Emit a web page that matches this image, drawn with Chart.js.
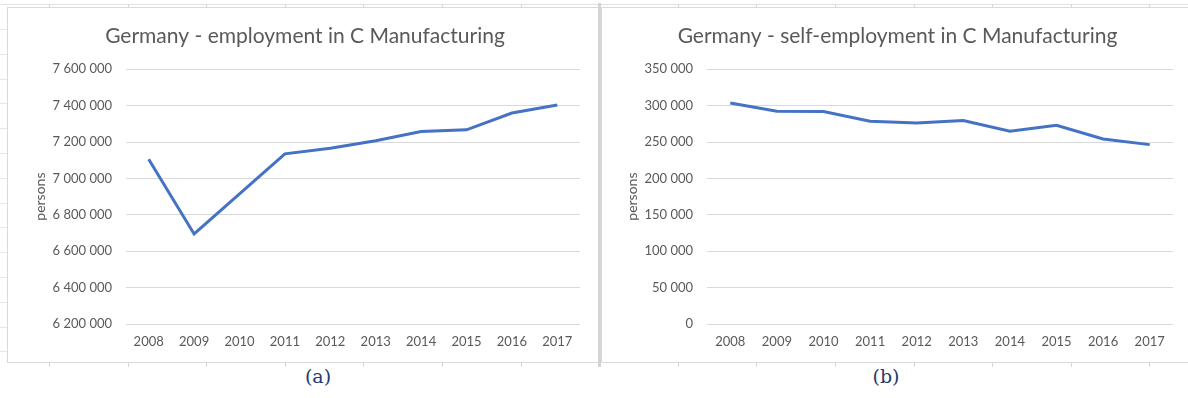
<!DOCTYPE html>
<html lang="en">
<head>
  <meta charset="UTF-8">
  <title>Germany - employment in C Manufacturing</title>
  <script src="https://cdn.jsdelivr.net/npm/chart.js"></script>
  <style>
    body {
      margin: 0;
      background: #ffffff;
      width: 1188px;
      height: 398px;
      position: relative;
      overflow: hidden;
      font-family: Lato, sans-serif;
    }

    .topline {
      position: absolute;
      left: 0;
      top: 4px;
      width: 1188px;
      height: 1px;
      background: #e2e2e2;
    }

    .tick {
      position: absolute;
      width: 1px;
      background: #d6d6d6;
    }

    .rowtick {
      position: absolute;
      left: 0;
      width: 7px;
      height: 1px;
      background: #e6e6e6;
    }

    .panel {
      position: absolute;
      top: 7px;
      border: 1px solid #d9d9d9;
      background: #fff;
    }

    .divider {
      position: absolute;
      left: 598px;
      top: 3px;
      width: 3px;
      height: 364px;
      background: #d4d4d4;
    }

    .caption {
      position: absolute;
      top: 365px;
      font-family: "DejaVu Serif", "Liberation Serif", serif;
      font-size: 19px;
      color: #1f3a6e;
      transform: translateX(-50%);
    }
  </style>
</head>
<body>
  <div class="topline"></div>
  <div id="ticks"></div>

  <div class="panel" style="left:7px; width:590px; height:354px;">
    <canvas id="empChart" width="590" height="354"></canvas>
  </div>
  <div class="panel" style="left:601px; width:588px; height:354px; border-right:none;">
    <canvas id="selfChart" width="587" height="354"></canvas>
  </div>
  <div class="divider"></div>

  <div class="caption" style="left:318px;">(a)</div>
  <div class="caption" style="left:886px;">(b)</div>

  <script>
    const years = ['2008', '2009', '2010', '2011', '2012', '2013', '2014', '2015', '2016', '2017'];
    const employment = [7105000, 6695000, 6915000, 7135000, 7166000, 7207000, 7258000, 7267000, 7359000, 7403000];
    const selfEmployment = [303600, 292200, 292000, 278400, 276000, 279400, 264700, 273000, 254100, 246400];

    // spreadsheet cell marks around the charts
    const tickBox = document.getElementById('ticks');
    for (let x = 49; x < 1188; x += 78.6) {
      const top = document.createElement('div');
      top.className = 'tick';
      top.style.cssText = `left:${Math.round(x)}px; top:4px; height:4px;`;
      tickBox.appendChild(top);
      const bottom = document.createElement('div');
      bottom.className = 'tick';
      bottom.style.cssText = `left:${Math.round(x)}px; top:362px; height:5px;`;
      tickBox.appendChild(bottom);
    }
    for (let y = 29; y < 362; y += 24.8) {
      const r = document.createElement('div');
      r.className = 'rowtick';
      r.style.top = Math.round(y) + 'px';
      tickBox.appendChild(r);
    }

    const grey = '#595959';
    const spaced = v => Math.round(v).toLocaleString('en-US').replace(/,/g, ' ');

    function makeChart(id, title, values, min, max, step, padLeft, plotLeft, padRight) {
      return new Chart(document.getElementById(id), {
        type: 'line',
        data: {
          labels: years,
          datasets: [{
            data: values,
            borderColor: '#4472C4',
            borderWidth: 3,
            pointRadius: 0,
            tension: 0,
            fill: false
          }]
        },
        options: {
          responsive: false,
          animation: false,
          layout: { padding: { left: padLeft, right: padRight, top: 0, bottom: 0 } },
          plugins: {
            legend: { display: false },
            tooltip: { enabled: false },
            title: {
              display: true,
              text: title,
              color: grey,
              font: { family: 'Lato', size: 21, weight: 'normal', lineHeight: 1.2 },
              padding: { top: 16, bottom: 20 }
            }
          },
          scales: {
            x: {
              offset: true,
              grid: { display: false, drawTicks: false },
              border: { display: false },
              ticks: { color: grey, font: { family: 'Lato', size: 13 }, padding: 10, maxRotation: 0 },
              afterFit: s => { s.height = 38; }
            },
            y: {
              min: min,
              max: max,
              grid: { color: '#d9d9d9', lineWidth: 1, drawTicks: false },
              border: { display: false },
              ticks: {
                stepSize: step,
                color: grey,
                padding: 14,
                font: { family: 'Lato', size: 13 },
                callback: v => spaced(v)
              },
              title: {
                display: true,
                text: 'persons',
                color: grey,
                font: { family: 'Lato', size: 14 },
                padding: { top: 2, bottom: 4 }
              },
              afterFit: s => { s.width = plotLeft - padLeft; }
            }
          }
        }
      });
    }

    makeChart('empChart', 'Germany - employment in C Manufacturing', employment,
      6200000, 7600000, 200000, 22, 118, 18);
    makeChart('selfChart', 'Germany - self-employment in C Manufacturing', selfEmployment,
      0, 350000, 50000, 20, 105, 16);
  </script>
</body>
</html>
